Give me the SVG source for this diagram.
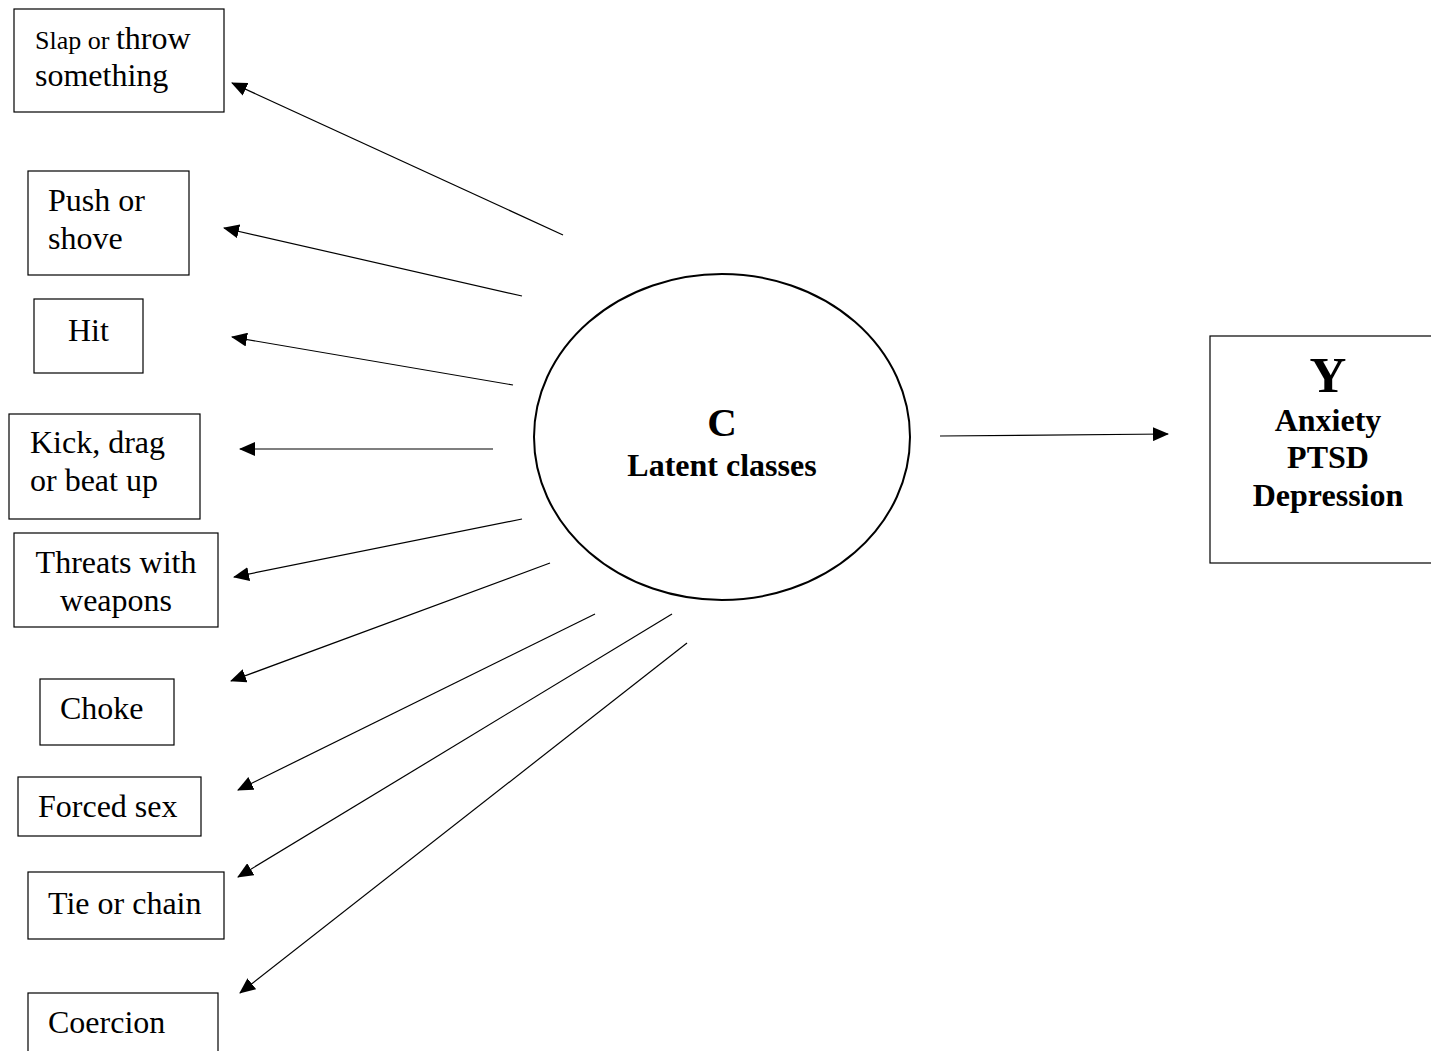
<svg xmlns="http://www.w3.org/2000/svg" width="1431" height="1051" viewBox="0 0 1431 1051">
<style>
.box{fill:#fff;stroke:#000;stroke-width:1.2}
.t{font-family:"Liberation Serif","Times New Roman",serif;font-size:32px;fill:#000}
.b{font-family:"Liberation Serif","Times New Roman",serif;font-weight:bold;fill:#000}
.c{stroke:#000;stroke-width:1.2;fill:none;marker-end:url(#ah)}
</style>
<defs>
<marker id="ah" viewBox="0 0 16 14" refX="15" refY="7" markerWidth="16" markerHeight="14" markerUnits="userSpaceOnUse" orient="auto">
<path d="M0,0 L16,7 L0,14 Z" fill="#000"/>
</marker>
</defs>
<rect width="1431" height="1051" fill="#fff"/>
<g id="n1"><rect class="box" x="14" y="9" width="210" height="103"/><text class="t" x="35" y="49"><tspan font-size="26">Slap or </tspan>throw</text><text class="t" x="35" y="86">something</text></g>
<g id="n2"><rect class="box" x="28" y="171" width="161" height="104"/><text class="t" x="48" y="211">Push or</text><text class="t" x="48" y="249">shove</text></g>
<g id="n3"><rect class="box" x="34" y="299" width="109" height="74"/><text class="t" x="68" y="341">Hit</text></g>
<g id="n4"><rect class="box" x="9" y="414" width="191" height="105"/><text class="t" x="30" y="453">Kick, drag</text><text class="t" x="30" y="491">or beat up</text></g>
<g id="n5"><rect class="box" x="14" y="533" width="204" height="94"/><text class="t" x="116" y="573" text-anchor="middle">Threats with</text><text class="t" x="116" y="611" text-anchor="middle">weapons</text></g>
<g id="n6"><rect class="box" x="40" y="679" width="134" height="66"/><text class="t" x="60" y="719">Choke</text></g>
<g id="n7"><rect class="box" x="18" y="777" width="183" height="59"/><text class="t" x="38" y="817">Forced sex</text></g>
<g id="n8"><rect class="box" x="28" y="872" width="196" height="67"/><text class="t" x="48" y="914">Tie or chain</text></g>
<g id="n9"><rect class="box" x="28" y="993" width="190" height="70"/><text class="t" x="48" y="1033">Coercion</text></g>
<g id="C"><ellipse cx="722" cy="437" rx="188" ry="163" fill="#fff" stroke="#000" stroke-width="2"/><text class="b" x="722" y="436" font-size="41" text-anchor="middle">C</text><text class="b" x="722" y="476" font-size="32" text-anchor="middle">Latent classes</text></g>
<g id="Y"><rect class="box" x="1210" y="336" width="230" height="227"/><text class="b" x="1328" y="392" font-size="51" text-anchor="middle">Y</text><text class="b" x="1328" y="431" font-size="32" text-anchor="middle">Anxiety</text><text class="b" x="1328" y="468" font-size="32" text-anchor="middle">PTSD</text><text class="b" x="1328" y="506" font-size="32" text-anchor="middle">Depression</text></g>
<g id="connectors">
<line class="c" x1="563" y1="235" x2="232" y2="83"/>
<line class="c" x1="522" y1="296" x2="224" y2="228"/>
<line class="c" x1="513" y1="385" x2="232" y2="337"/>
<line class="c" x1="493" y1="449" x2="240" y2="449"/>
<line class="c" x1="522" y1="519" x2="234" y2="577"/>
<line class="c" x1="550" y1="563" x2="231" y2="681"/>
<line class="c" x1="595" y1="614" x2="238" y2="790"/>
<line class="c" x1="672" y1="614" x2="238" y2="877"/>
<line class="c" x1="687" y1="643" x2="240" y2="993"/>
<line class="c" x1="940" y1="436" x2="1168" y2="434"/>
</g>
</svg>
